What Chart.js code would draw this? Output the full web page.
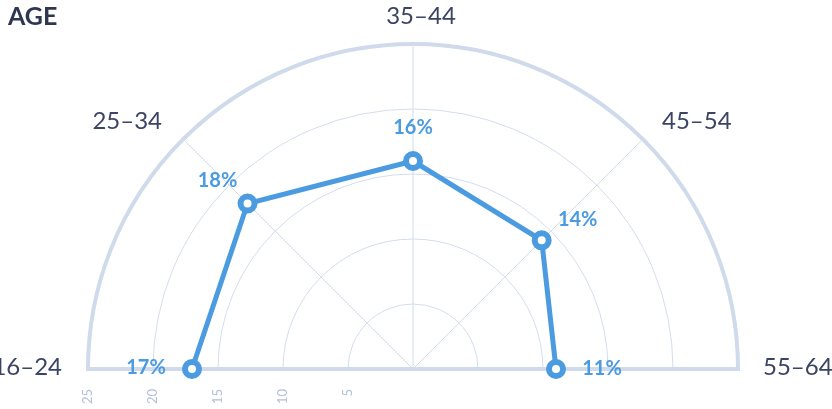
<!DOCTYPE html>
<html>
<head>
<meta charset="utf-8">
<script src="https://cdn.jsdelivr.net/npm/chart.js@4/dist/chart.umd.min.js"></script>
<style>
  html, body { margin: 0; padding: 0; background: #fff; }
  #wrap { position: relative; width: 832px; height: 409px; overflow: hidden; }
  #title {
    position: absolute; left: 8px; top: 3px;
    font: 700 25px/24px Lato, sans-serif; color: #2e3652;
  }
  #chart { position: absolute; left: 0; top: 0; }
</style>
</head>
<body>
<div id="wrap">
  <canvas id="chart" width="832" height="738"></canvas>
  <div id="title">AGE</div>
</div>
<script>
// --- Age distribution, half radar ---
const ageGroups = ['16–24', '25–34', '35–44', '45–54', '55–64', '', '', ''];
const sharePct = [17, 18, 16, 14, 11, null, null, null];
const tickValues = [5, 10, 15, 20, 25];

const BLUE = '#4b9be0';
const GRID = '#d3ddec';
const RIM = '#cfdaea';

// label placement around each spoke (dx, dy from anchor, text align)
const groupLabelPos = [
  [-26, 6, 'right'], [-56, -10, 'center'], [8, -20, 'center'],
  [54, -10, 'center'], [25, 6, 'left']
];
const valueLabelPos = [
  [-46, 5], [-30, -17], [0, -27], [36, -14], [46, 6]
];

// only the upper half of the scale gets drawn
const halfClip = {
  id: 'halfClip',
  beforeDraw(chart) {
    const r = chart.scales.r;
    const ctx = chart.ctx;
    ctx.save();
    ctx.beginPath();
    ctx.rect(0, 0, chart.width, r.yCenter + 2);
    ctx.clip();
  },
  beforeDatasetsDraw(chart) {
    chart.ctx.restore();
  }
};

const labelsPlugin = {
  id: 'labelsPlugin',
  afterDraw(chart) {
    const r = chart.scales.r;
    const ctx = chart.ctx;
    ctx.save();

    // category names outside the rim
    ctx.font = '400 24px Lato, sans-serif';
    ctx.fillStyle = '#3b4463';
    ctx.textBaseline = 'alphabetic';
    groupLabelPos.forEach((p, i) => {
      const pt = r.getPointPosition(i, r.drawingArea);
      ctx.textAlign = p[2];
      ctx.fillText(ageGroups[i], pt.x + p[0], pt.y + p[1]);
    });

    // percentage next to each point
    ctx.font = '700 20px Lato, sans-serif';
    ctx.fillStyle = BLUE;
    ctx.textAlign = 'center';
    const meta = chart.getDatasetMeta(0);
    valueLabelPos.forEach((p, i) => {
      const el = meta.data[i];
      ctx.fillText(sharePct[i] + '%', el.x + p[0], el.y + p[1]);
    });

    // rotated ring values under the baseline
    ctx.font = '400 13px Lato, sans-serif';
    ctx.fillStyle = '#b3c1da';
    ctx.textAlign = 'right';
    ctx.textBaseline = 'middle';
    tickValues.forEach(v => {
      const x = r.xCenter - r.getDistanceFromCenterForValue(v);
      ctx.save();
      ctx.translate(x, r.yCenter + 20);
      ctx.rotate(-Math.PI / 2);
      ctx.fillText(String(v), 0, 0);
      ctx.restore();
    });

    ctx.restore();
  }
};

new Chart(document.getElementById('chart'), {
  type: 'radar',
  data: {
    labels: ageGroups,
    datasets: [{
      data: sharePct,
      borderColor: BLUE,
      borderWidth: 5,
      fill: false,
      spanGaps: false,
      pointRadius: 7,
      pointBorderWidth: 6,
      pointBackgroundColor: '#fff',
      pointBorderColor: BLUE
    }]
  },
  options: {
    responsive: false,
    animation: false,
    layout: { padding: { left: 88, right: 94, top: 44, bottom: 44 } },
    plugins: { legend: { display: false }, tooltip: { enabled: false } },
    scales: {
      r: {
        min: 0,
        max: 25,
        startAngle: -90,
        ticks: { stepSize: 5, display: false },
        pointLabels: { display: false },
        grid: {
          circular: true,
          color: ctx => ctx.tick && ctx.tick.value === 25 ? RIM : GRID,
          lineWidth: ctx => ctx.tick && ctx.tick.value === 25 ? 4 : 1
        },
        angleLines: {
          color: ctx => (ctx.index === 0 || ctx.index === 4) ? RIM : GRID,
          lineWidth: ctx => {
            if (ctx.index === 0 || ctx.index === 4) return 4;
            return ctx.index < 4 ? 1 : 0;
          }
        }
      }
    }
  },
  plugins: [halfClip, labelsPlugin]
});
</script>
</body>
</html>
